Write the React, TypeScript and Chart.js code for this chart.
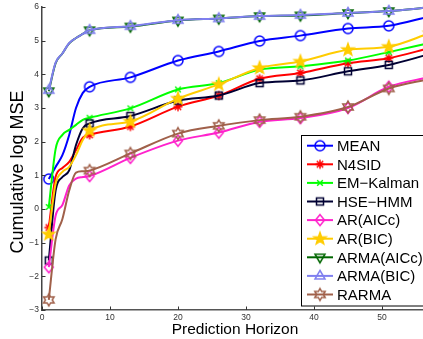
import React, { useEffect, useRef } from 'react';
import { Chart, registerables } from 'chart.js';

Chart.register(...registerables);

// ---- data ----
const xValues = [1, 2, 3, 4, 5, 6, 7, 13, 20, 26, 32, 38, 45, 51, 57];
const markerX = [1, 7, 13, 20, 26, 32, 38, 45, 51, 57];

const seriesNames = ['MEAN', 'N4SID', 'EM\u2212Kalman', 'HSE\u2212HMM', 'AR(AICc)', 'AR(BIC)', 'ARMA(AICc)', 'ARMA(BIC)', 'RARMA'];

const meanValues = [0.89, 1.25, 1.6, 2.2, 3.0, 3.45, 3.63, 3.91, 4.41, 4.68, 4.99, 5.15, 5.36, 5.44, 5.72];
const n4sidValues = [-0.55, 0.95, 1.22, 1.4, 1.75, 2.12, 2.2, 2.45, 3.04, 3.37, 3.87, 4.04, 4.33, 4.48, 4.78];
const emKalmanValues = [0.06, 1.78, 2.2, 2.35, 2.5, 2.65, 2.71, 2.99, 3.55, 3.74, 4.14, 4.24, 4.41, 4.66, 4.93];
const hseHmmValues = [-1.53, 0.55, 0.95, 1.15, 1.9, 2.4, 2.54, 2.76, 3.22, 3.37, 3.74, 3.82, 4.09, 4.28, 4.6];
const arAiccValues = [-1.73, -0.2, 0.12, 0.7, 0.9, 0.95, 0.98, 1.52, 2.03, 2.27, 2.59, 2.7, 3.0, 3.63, 3.92];
const arBicValues = [-0.75, 0.75, 1.1, 1.25, 1.6, 2.05, 2.33, 2.6, 3.28, 3.7, 4.19, 4.38, 4.73, 4.82, 5.22];
const armaAiccValues = [3.5, 4.33, 4.62, 4.92, 5.08, 5.2, 5.31, 5.42, 5.6, 5.66, 5.73, 5.75, 5.82, 5.88, 5.99];
const armaBicValues = [3.53, 4.35, 4.62, 4.93, 5.08, 5.2, 5.31, 5.43, 5.61, 5.66, 5.73, 5.76, 5.82, 5.88, 5.99];
const rarmaValues = [-2.7, -0.9, -0.3, 0.55, 1.08, 1.12, 1.14, 1.65, 2.24, 2.47, 2.64, 2.74, 3.03, 3.58, 3.86];

const xTickValues = [0, 10, 20, 30, 40, 50, 60];
const yTickValues = [-3, -2, -1, 0, 1, 2, 3, 4, 5, 6];

const allValues = [meanValues, n4sidValues, emKalmanValues, hseHmmValues, arAiccValues, arBicValues, armaAiccValues, armaBicValues, rarmaValues];
const colors = ['#0000FF', '#FF0000', '#00FF00', '#000033', '#FF22CC', '#FFCC00', '#006600', '#7F7FEF', '#A0604A'];
const markerKinds = ['circle', 'asterisk', 'x', 'square', 'diamond', 'pentagram', 'triDown', 'triUp', 'hexagram'];

const FONT = '"Liberation Sans", Arial, Helvetica, sans-serif';

function makeMarker(kind: string, color: string): HTMLCanvasElement {
  const s = 18;
  const c = document.createElement('canvas');
  c.width = s;
  c.height = s;
  const g = c.getContext('2d') as CanvasRenderingContext2D;
  g.translate(s / 2, s / 2);
  g.strokeStyle = color;
  g.fillStyle = color;
  g.lineWidth = 1.5;
  g.beginPath();
  const line = (a: number, r: number) => {
    g.moveTo(-Math.cos(a) * r, -Math.sin(a) * r);
    g.lineTo(Math.cos(a) * r, Math.sin(a) * r);
  };
  switch (kind) {
    case 'circle':
      g.arc(0, 0, 5, 0, Math.PI * 2);
      g.stroke();
      break;
    case 'asterisk':
      [0, 45, 90, 135].forEach((d) => line((d * Math.PI) / 180, 4.5));
      g.stroke();
      break;
    case 'x':
      [45, 135].forEach((d) => line((d * Math.PI) / 180, 4));
      g.stroke();
      break;
    case 'square':
      g.rect(-3.5, -3.5, 7, 7);
      g.stroke();
      break;
    case 'diamond':
      g.moveTo(0, -5.5);
      g.lineTo(4.5, 0);
      g.lineTo(0, 5.5);
      g.lineTo(-4.5, 0);
      g.closePath();
      g.stroke();
      break;
    case 'pentagram':
      for (let i = 0; i < 10; i++) {
        const r = i % 2 === 0 ? 6.3 : 2.6;
        const a = -Math.PI / 2 + (i * Math.PI) / 5;
        if (i === 0) g.moveTo(Math.cos(a) * r, Math.sin(a) * r);
        else g.lineTo(Math.cos(a) * r, Math.sin(a) * r);
      }
      g.closePath();
      g.fill();
      g.stroke();
      break;
    case 'triDown':
      g.moveTo(0, 5.5);
      g.lineTo(-5, -3);
      g.lineTo(5, -3);
      g.closePath();
      g.stroke();
      break;
    case 'triUp':
      g.moveTo(0, -5.5);
      g.lineTo(5, 3);
      g.lineTo(-5, 3);
      g.closePath();
      g.stroke();
      break;
    case 'hexagram':
      for (let i = 0; i < 12; i++) {
        const r = i % 2 === 0 ? 6 : 3.4;
        const a = -Math.PI / 2 + (i * Math.PI) / 6;
        if (i === 0) g.moveTo(Math.cos(a) * r, Math.sin(a) * r);
        else g.lineTo(Math.cos(a) * r, Math.sin(a) * r);
      }
      g.closePath();
      g.stroke();
      break;
  }
  return c;
}

export default function App() {
  const canvasRef = useRef<HTMLCanvasElement | null>(null);

  useEffect(() => {
    const canvas = canvasRef.current;
    if (!canvas) return;
    const markers = markerKinds.map((k, i) => makeMarker(k, colors[i]));

    const datasets = seriesNames.map((name, i) => ({
      label: name,
      data: xValues.map((x, j) => ({ x, y: allValues[i][j] })),
      borderColor: colors[i],
      backgroundColor: colors[i],
      borderWidth: 2,
      pointStyle: markers[i] as any,
      pointRadius: (ctx: any) => (ctx.raw && markerX.includes(ctx.raw.x) ? 5 : 0),
      cubicInterpolationMode: 'monotone' as const,
      order: seriesNames.length - 1 - i,
      clip: false as any,
    }));

    const overlay = {
      id: 'overlay',
      afterDraw(chart: any) {
        const ctx = chart.ctx as CanvasRenderingContext2D;
        const xs = chart.scales.x;
        const ys = chart.scales.y;
        const area = chart.chartArea;
        ctx.save();
        // inward tick marks
        ctx.strokeStyle = '#333';
        ctx.lineWidth = 1;
        yTickValues.forEach((v) => {
          const py = Math.round(ys.getPixelForValue(v)) + 0.5;
          ctx.beginPath();
          ctx.moveTo(area.left, py);
          ctx.lineTo(area.left + 3.5, py);
          ctx.stroke();
        });
        xTickValues.forEach((v) => {
          const px = Math.round(xs.getPixelForValue(v)) + 0.5;
          ctx.beginPath();
          ctx.moveTo(px, area.bottom);
          ctx.lineTo(px, area.bottom - 3.5);
          ctx.stroke();
        });
        // axis titles
        ctx.fillStyle = '#000';
        ctx.font = `15.5px ${FONT}`;
        ctx.textAlign = 'center';
        ctx.textBaseline = 'alphabetic';
        ctx.fillText('Prediction Horizon', 235, 334);
        ctx.save();
        ctx.translate(23, 172);
        ctx.rotate(-Math.PI / 2);
        ctx.font = `18px ${FONT}`;
        ctx.fillText('Cumulative log MSE', 0, 0);
        ctx.restore();
        // legend
        const lx = 301.5;
        const ly = 135.5;
        ctx.fillStyle = '#fff';
        ctx.fillRect(lx, ly, 160, 170.5);
        ctx.strokeStyle = '#000';
        ctx.lineWidth = 1;
        ctx.strokeRect(lx, ly, 160, 170.5);
        ctx.font = `15px ${FONT}`;
        ctx.textAlign = 'left';
        seriesNames.forEach((name, i) => {
          const cy = 145.7 + i * 18.6;
          ctx.strokeStyle = colors[i];
          ctx.lineWidth = 2;
          ctx.beginPath();
          ctx.moveTo(307, cy);
          ctx.lineTo(333, cy);
          ctx.stroke();
          const m = markers[i];
          ctx.drawImage(m, 320 - m.width / 2, cy - m.height / 2);
          ctx.fillStyle = '#000';
          ctx.fillText(name, 337, cy + 5.3);
        });
        ctx.restore();
      },
    };

    const chart = new Chart(canvas, {
      type: 'line',
      data: { datasets: datasets as any },
      options: {
        animation: false,
        responsive: false,
        events: [],
        layout: { padding: { top: 3, right: 10, left: 0, bottom: 0 } },
        plugins: { legend: { display: false }, tooltip: { enabled: false } },
        scales: {
          x: {
            type: 'linear',
            min: 0,
            max: 60,
            afterBuildTicks: (scale: any) => {
              scale.ticks = xTickValues.map((v) => ({ value: v }));
            },
            afterFit: (scale: any) => {
              scale.height = 29;
            },
            grid: { display: false, drawTicks: false },
            border: { display: true, color: '#555', width: 1.5 },
            ticks: {
              padding: 3,
              color: '#333',
              font: { family: FONT, size: 8.5 },
              maxRotation: 0,
              autoSkip: false,
            },
          },
          y: {
            type: 'linear',
            min: -3,
            max: 6,
            afterBuildTicks: (scale: any) => {
              scale.ticks = yTickValues.map((v) => ({ value: v }));
            },
            afterFit: (scale: any) => {
              scale.width = 42;
            },
            grid: { display: false, drawTicks: false },
            border: { display: true, color: '#444', width: 1.5 },
            ticks: {
              padding: 3,
              color: '#333',
              font: { family: FONT, size: 8.5, lineHeight: 0.8 },
              autoSkip: false,
              callback: (v: any) => String(v).replace('-', '\u2212'),
            },
          },
        },
      },
      plugins: [overlay],
    });

    return () => {
      chart.destroy();
    };
  }, []);

  return (
    <div style={{ position: 'absolute', left: 0, top: 0, width: 423, height: 339, overflow: 'hidden', background: '#fff' }}>
      <canvas ref={canvasRef} width={460} height={339} style={{ width: 460, height: 339, display: 'block' }} />
    </div>
  );
}
